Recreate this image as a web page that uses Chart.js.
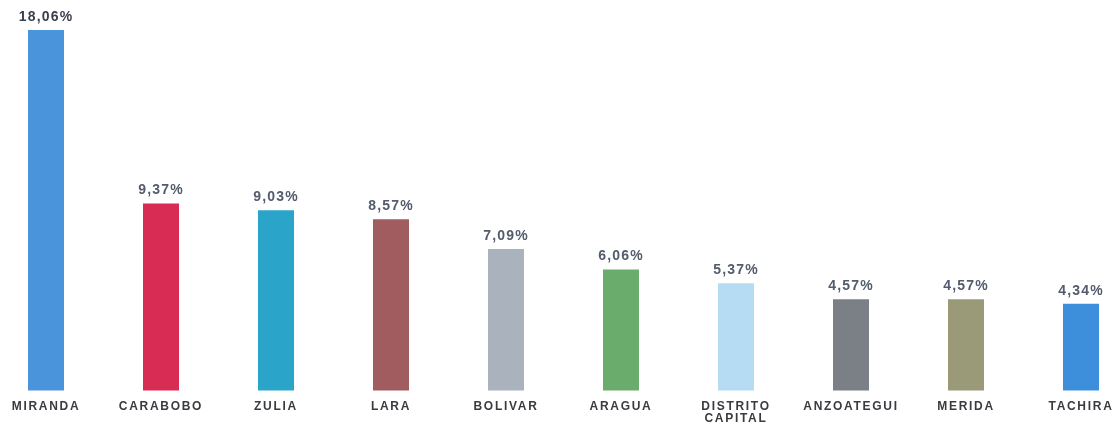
<!DOCTYPE html>
<html>
<head>
<meta charset="utf-8">
<script src="https://cdn.jsdelivr.net/npm/chart.js@4"></script>
<style>
html,body{margin:0;padding:0;background:#fff;}
#wrap{width:1120px;height:424px;position:relative;}
</style>
</head>
<body>
<div id="wrap"><canvas id="c"></canvas></div>
<script>
const categories = ["MIRANDA","CARABOBO","ZULIA","LARA","BOLIVAR","ARAGUA",["DISTRITO","CAPITAL"],"ANZOATEGUI","MERIDA","TACHIRA"];
const values = [18.06, 9.37, 9.03, 8.57, 7.09, 6.06, 5.37, 4.57, 4.57, 4.34];
const valueLabels = ["18,06%","9,37%","9,03%","8,57%","7,09%","6,06%","5,37%","4,57%","4,57%","4,34%"];
const barColors = ["#4a94dc","#d82c55","#2aa5c9","#a05c5e","#aab2be","#6aac6c","#b5dcf3","#7a8086","#9a9a78","#3d8fdc"];

const spacing = {
  id: 'spacing',
  beforeDraw(chart) { chart.ctx.letterSpacing = '1.7px'; }
};

const topLabels = {
  id: 'topLabels',
  afterDatasetsDraw(chart) {
    const ctx = chart.ctx;
    const meta = chart.getDatasetMeta(0);
    ctx.save();
    ctx.letterSpacing = '1.2px';
    ctx.font = 'bold 14px "Liberation Sans", Arial, sans-serif';
    ctx.textAlign = 'center';
    ctx.textBaseline = 'bottom';
    meta.data.forEach((bar, i) => {
      ctx.fillStyle = i === 0 ? '#3a3f4a' : '#535b6c';
      ctx.fillText(valueLabels[i], bar.x, bar.y - 6);
    });
    ctx.restore();
  }
};

new Chart(document.getElementById('c'), {
  type: 'bar',
  data: {
    labels: categories,
    datasets: [{
      data: values,
      backgroundColor: barColors,
      borderWidth: 0,
      categoryPercentage: 1,
      barPercentage: 0.313,
      clip: false
    }]
  },
  options: {
    responsive: true,
    maintainAspectRatio: false,
    animation: false,
    layout: { padding: { left: 46, right: 39, top: 30, bottom: -9 } },
    plugins: { legend: { display: false }, tooltip: { enabled: false } },
    scales: {
      x: {
        offset: false,
        grid: { display: false, drawTicks: true, tickLength: 11 },
        border: { display: false },
        ticks: {
          color: '#3a3a40',
          font: { family: '"Liberation Sans", Arial, sans-serif', size: 12, weight: 'bold', lineHeight: 1.0 },
          padding: 8,
          maxRotation: 0,
          autoSkip: false
        }
      },
      y: {
        display: false,
        beginAtZero: false,
        min: 0.42,
        max: 18.06
      }
    }
  },
  plugins: [spacing, topLabels]
});
</script>
</body>
</html>
